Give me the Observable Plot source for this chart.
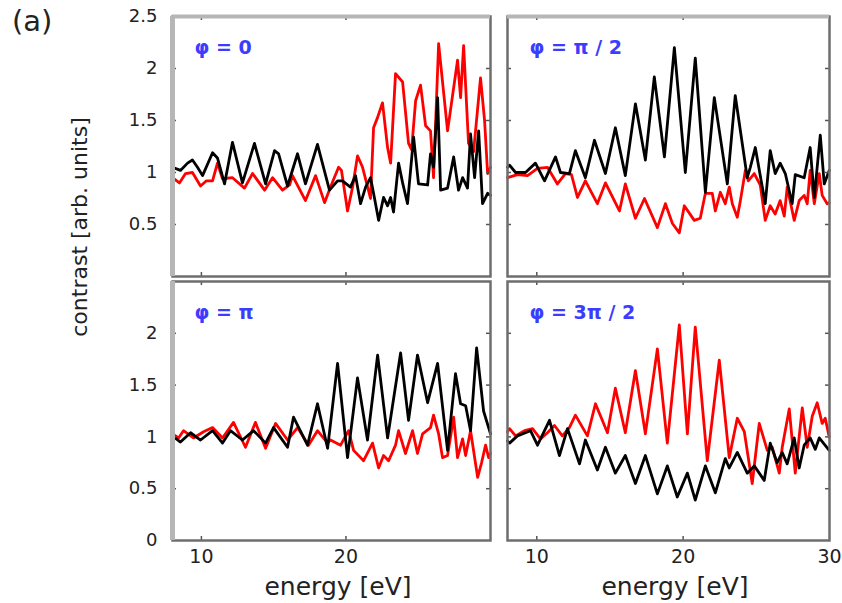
<!DOCTYPE html>
<html>
<head>
<meta charset="utf-8">
<script src="https://cdn.jsdelivr.net/npm/d3@7"></script>
<script src="https://cdn.jsdelivr.net/npm/@observablehq/plot@0.6"></script>
<style>
  body { margin: 0; background: #fff; }
  #fig { position: relative; width: 842px; height: 603px; background: #fff; overflow: hidden; font-family: "DejaVu Sans", sans-serif; color: #222; }
  .panel { position: absolute; }
  .t { position: absolute; line-height: 1; white-space: nowrap; }
</style>
</head>
<body>
<div id="fig"></div>
<script>
// ---- data (energy in eV, contrast in arb. units) ----
const xDomain = [8, 30];
const yDomain = [0, 2.5];
const yInnerTicks = [0.5, 1, 1.5, 2];
const xInnerTicks = [10, 20];
const panelLabels = ["φ = 0", "φ = π / 2", "φ = π", "φ = 3π / 2"];
const yLabelsTop = [0.5, 1, 1.5, 2, 2.5];
const yLabelsBottom = [0, 0.5, 1, 1.5, 2];
const xLabelsLeft = [10, 20];
const xLabelsRight = [10, 20, 30];

// φ = 0
const tlBlackE = [8.00,8.55,9.04,9.38,9.73,10.08,10.77,11.11,11.60,12.15,12.84,13.67,14.44,15.06,15.34,15.96,16.65,17.20,18.03,18.86,19.42,19.76,20.31,20.66,21.01,21.36,21.70,21.91,22.26,22.60,22.88,23.09,23.29,23.64,23.92,24.26,24.68,25.02,25.65,25.85,26.06,26.34,26.55,27.03,27.45,27.79,28.07,28.41,28.62,28.90,29.18,29.45,29.80,30.00];
const tlBlackV = [1.05,1.02,1.09,1.12,1.05,0.97,1.19,1.14,0.89,1.29,0.90,1.28,0.89,1.21,1.18,0.87,1.18,0.89,1.27,0.83,0.92,0.92,0.86,0.97,0.70,0.86,0.95,0.80,0.54,0.76,0.68,0.76,0.62,1.09,0.90,0.70,1.34,0.89,0.88,1.18,1.05,1.72,0.83,0.85,1.15,0.83,0.95,0.85,1.37,0.95,1.40,0.70,0.80,0.78];
const tlRedE = [8.00,8.48,8.90,9.38,9.94,10.35,10.77,11.11,11.46,12.15,12.98,13.54,14.37,14.92,15.61,16.10,16.30,17.20,17.90,18.52,18.93,19.49,19.69,20.11,20.46,20.80,21.15,21.70,21.91,22.19,22.53,22.88,23.09,23.43,23.92,24.33,24.54,24.82,25.16,25.51,25.85,26.06,26.41,27.03,27.72,27.93,28.14,28.48,28.83,29.31,29.59,29.80,30.00];
const tlRedV = [0.95,0.90,0.99,1.00,0.87,0.92,0.92,1.09,0.94,0.95,0.85,0.99,0.83,0.95,0.83,0.88,0.97,0.73,0.97,0.71,0.86,1.05,1.02,0.63,0.86,1.16,1.05,0.75,1.43,1.53,1.67,1.24,1.09,1.95,1.87,1.28,1.22,1.69,1.84,1.45,1.40,0.95,2.24,1.40,2.08,1.72,2.22,1.28,1.20,1.91,1.50,0.99,1.05];

// φ = π/2
const trBlackE = [8.00,8.14,8.55,9.23,9.91,10.53,11.28,11.62,12.23,12.64,13.32,13.94,14.69,15.37,16.05,16.74,17.42,18.03,18.72,19.40,20.15,20.83,21.52,22.13,23.02,23.56,24.38,24.59,24.93,25.61,25.95,26.29,26.63,26.98,27.45,27.66,28.27,28.68,28.96,29.37,29.64,29.98];
const trBlackV = [1.05,1.07,1.00,1.00,1.09,0.92,1.15,1.00,0.99,1.21,0.95,1.31,0.99,1.43,0.97,1.66,1.12,1.92,1.15,2.20,1.00,2.10,0.81,1.72,0.89,1.74,0.95,1.05,1.24,0.70,1.21,0.99,1.09,0.99,0.70,0.98,0.95,1.24,0.76,1.36,0.89,1.02];
const trRedE = [8.00,8.68,9.37,10.05,10.73,11.41,11.96,12.37,12.78,13.32,14.14,14.69,15.65,16.05,16.74,17.36,18.24,18.79,19.27,19.74,20.08,20.76,21.17,21.52,21.99,22.20,22.54,22.88,23.15,23.36,23.70,23.90,24.25,24.45,24.86,25.27,25.61,25.95,26.29,26.63,26.91,27.11,27.59,27.93,28.27,28.48,28.68,28.96,29.30,29.50,29.84,29.98];
const trRedV = [0.95,0.98,0.97,1.04,1.05,0.89,0.99,0.98,0.76,0.92,0.70,0.90,0.63,0.89,0.56,0.75,0.47,0.70,0.51,0.42,0.68,0.54,0.56,0.80,0.80,0.63,0.81,0.70,0.86,0.70,0.57,0.72,1.02,0.92,0.99,0.88,0.54,0.68,0.60,0.73,0.58,0.86,0.54,0.73,0.78,0.70,1.02,0.70,0.99,0.78,0.70,0.71];

// φ = π
const blBlackE = [8.00,8.55,9.25,9.94,10.77,11.46,12.01,12.84,13.61,14.44,14.99,15.96,16.37,17.34,18.03,18.73,19.42,20.11,20.80,21.49,22.19,22.88,23.78,24.33,24.95,25.65,26.34,27.03,27.58,27.93,28.28,28.62,29.04,29.52,30.00];
const blBlackV = [1.01,0.95,1.04,0.97,1.06,0.94,1.06,0.97,1.06,0.94,1.09,0.90,1.19,0.92,1.32,0.89,1.71,0.80,1.57,0.97,1.79,0.99,1.81,1.16,1.79,1.33,1.71,0.87,1.61,1.32,1.30,1.06,1.86,1.25,1.03];
const blRedE = [8.00,8.42,8.76,9.45,10.15,10.77,11.46,12.22,13.05,13.74,14.44,15.13,15.96,16.65,17.41,18.03,18.73,18.93,19.63,20.18,20.53,21.22,21.84,22.26,22.60,22.95,23.43,23.64,24.12,24.61,24.95,25.30,25.85,26.06,26.41,26.68,27.03,27.45,27.72,28.07,28.28,28.62,29.11,29.38,29.66,29.87,30.00];
const blRedV = [1.03,0.99,1.06,0.99,1.05,1.09,0.99,1.14,0.90,1.14,0.89,1.13,0.97,1.09,0.92,1.06,0.94,0.97,0.92,1.06,0.87,0.77,0.94,0.70,0.82,0.77,0.92,1.06,0.84,1.06,0.84,1.03,1.09,1.21,1.03,0.80,0.82,1.19,0.80,0.98,0.82,1.06,0.61,0.75,0.92,0.80,0.84];

// φ = 3π/2
const brBlackE = [8.00,8.14,8.68,9.57,10.05,10.87,11.55,12.10,12.92,13.32,14.14,14.69,15.37,16.05,16.74,17.42,18.24,18.92,19.60,20.29,20.83,21.52,22.20,22.88,23.15,23.70,24.38,24.86,25.54,25.95,26.42,26.77,27.11,27.59,27.93,28.27,28.68,29.03,29.30,29.64,29.98];
const brBlackV = [0.96,0.94,1.01,1.06,0.92,1.16,0.82,1.08,0.74,0.97,0.68,0.90,0.65,0.82,0.55,0.82,0.45,0.72,0.42,0.65,0.39,0.72,0.46,0.79,0.70,0.85,0.65,0.72,0.58,0.94,0.75,0.85,0.74,0.99,0.70,0.92,0.99,0.88,0.99,0.93,0.87];
const brRedE = [8.00,8.14,8.55,9.16,9.71,10.25,10.73,11.21,11.75,12.23,12.64,13.46,14.01,14.83,15.37,16.05,16.74,17.42,18.24,18.92,19.74,20.29,20.83,21.65,22.47,23.15,23.70,24.18,24.72,25.20,25.75,26.09,26.57,26.77,27.25,27.66,28.14,28.48,28.82,29.16,29.50,29.71,29.98];
const brRedV = [1.05,1.08,1.01,1.06,1.08,0.98,1.04,1.11,1.01,1.09,1.21,1.01,1.32,1.04,1.47,1.04,1.64,1.03,1.85,0.94,2.08,1.03,2.06,0.77,1.74,0.80,1.18,1.05,0.55,1.13,0.87,0.90,0.65,0.90,1.27,0.65,1.28,0.90,1.20,1.33,1.13,1.18,1.00];

// ---- build ----
const zip = (E, V) => E.slice(0, Math.min(E.length, V.length)).map((e, i) => ({E: e, v: V[i]}));

const panels = [
  {label: panelLabels[0], left: 100, top: 0, width: 398, height: 279, mt: 16, mr: 8, mb: 3, ml: 72,
   yLabels: yLabelsTop, xLabels: null, leftCol: true, topRow: true,
   red: zip(tlRedE, tlRedV), black: zip(tlBlackE, tlBlackV)},
  {label: panelLabels[1], left: 499, top: 0, width: 343, height: 279, mt: 16, mr: 13, mb: 3, ml: 8,
   yLabels: null, xLabels: null, leftCol: false, topRow: true,
   red: zip(trRedE, trRedV), black: zip(trBlackE, trBlackV)},
  {label: panelLabels[2], left: 100, top: 279, width: 398, height: 324, mt: 2, mr: 8, mb: 63, ml: 72,
   yLabels: yLabelsBottom, xLabels: xLabelsLeft, leftCol: true, topRow: false,
   red: zip(blRedE, blRedV), black: zip(blBlackE, blBlackV)},
  {label: panelLabels[3], left: 499, top: 279, width: 343, height: 324, mt: 2, mr: 13, mb: 63, ml: 8,
   yLabels: null, xLabels: xLabelsRight, leftCol: false, topRow: false,
   red: zip(brRedE, brRedV), black: zip(brBlackE, brBlackV)}
];

const fig = document.getElementById("fig");

for (const p of panels) {
  const fw = p.width - p.ml - p.mr;
  const fh = p.height - p.mt - p.mb;
  const tickStroke = "#555";
  const marks = [
    Plot.line(p.red, {x: "E", y: "v", stroke: "#ff0000", strokeWidth: 2.8, strokeLinejoin: "round"}),
    Plot.line(p.black, {x: "E", y: "v", stroke: "#000000", strokeWidth: 2.8, strokeLinejoin: "round"}),
    // inner ticks
    Plot.tickY(yInnerTicks, {y: d => d, insetRight: fw - 4, stroke: tickStroke, strokeWidth: 1.5}),
    Plot.tickY(yInnerTicks, {y: d => d, insetLeft: fw - 4, stroke: tickStroke, strokeWidth: 1.5}),
    Plot.tickX(xInnerTicks, {x: d => d, insetTop: fh - 4, stroke: tickStroke, strokeWidth: 1.5}),
    Plot.tickX(xInnerTicks, {x: d => d, insetBottom: fh - 4, stroke: tickStroke, strokeWidth: 1.5}),
    Plot.frame({stroke: "#6e6e6e", strokeWidth: 2.5}),
    p.topRow ? Plot.ruleY([yDomain[1]], {stroke: "#b6b6b6", strokeWidth: 4}) : null,
    p.leftCol ? Plot.ruleX([xDomain[0]], {stroke: "#b6b6b6", strokeWidth: 5}) : null,
    Plot.text([p.label], {frameAnchor: "top-left", text: d => d, dx: 22, dy: 24, textAnchor: "start", lineAnchor: "top",
      fill: "#3c3cff", fontSize: 19, fontWeight: "bold"}),
    p.yLabels ? Plot.axisY({ticks: p.yLabels, tickSize: 0, tickPadding: 15, fontSize: 18, label: null,
      tickFormat: d => String(d), fill: "#222"}) : null,
    p.xLabels ? Plot.axisX({ticks: p.xLabels, tickSize: 0, tickPadding: 9, fontSize: 19, label: null,
      tickFormat: d => String(d), fill: "#222"}) : null
  ].filter(Boolean);

  const chart = Plot.plot({
    width: p.width,
    height: p.height,
    marginTop: p.mt, marginRight: p.mr, marginBottom: p.mb, marginLeft: p.ml,
    x: {domain: xDomain, axis: p.xLabels ? undefined : null},
    y: {domain: yDomain, axis: p.yLabels ? undefined : null},
    style: {fontFamily: "DejaVu Sans, sans-serif", background: "white", overflow: "visible", color: "#222"},
    marks
  });
  const holder = document.createElement("div");
  holder.className = "panel";
  holder.style.left = p.left + "px";
  holder.style.top = p.top + "px";
  holder.appendChild(chart);
  fig.appendChild(holder);
}

function addText(txt, css) {
  const d = document.createElement("div");
  d.className = "t";
  d.textContent = txt;
  Object.assign(d.style, css);
  fig.appendChild(d);
}
addText("(a)", {left: "12px", top: "7px", fontSize: "29px"});
addText("contrast [arb. units]", {left: "80px", top: "227px", fontSize: "22px", transform: "translate(-50%,-50%) rotate(-90deg)"});
addText("energy [eV]", {left: "338px", top: "574px", fontSize: "25px", transform: "translateX(-50%)"});
addText("energy [eV]", {left: "675px", top: "574px", fontSize: "25px", transform: "translateX(-50%)"});
</script>
</body>
</html>
